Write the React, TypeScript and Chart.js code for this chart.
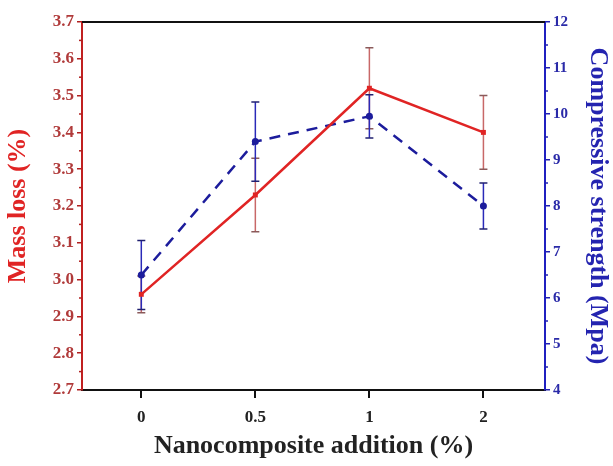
import React, { useEffect, useRef } from "react";
import { Chart, registerables } from "chart.js";

Chart.register(...registerables);

const categories = ["0", "0.5", "1", "2"];
const massLoss = [2.96, 3.23, 3.52, 3.4];
const massLossErr = [0.05, 0.1, 0.11, 0.1];
const strength = [6.5, 9.4, 9.95, 8.0];
const strengthErr = [0.75, 0.86, 0.47, 0.5];

const RED = "#e02424";
const RED_ERR = "#c86868";
const BLUE = "#1c1c9c";
const BLUE_ERR = "#2a2ab8";
const FONT = "'Liberation Serif', 'Times New Roman', serif";

const errorBarPlugin = {
  id: "errorBars",
  beforeDatasetsDraw(chart: any) {
    const ctx = chart.ctx;
    const x = chart.scales.x;
    const sets = [
      { vals: massLoss, errs: massLossErr, scale: chart.scales.y, color: RED_ERR, cap: "#8a5a5a" },
      { vals: strength, errs: strengthErr, scale: chart.scales.y1, color: BLUE_ERR, cap: "#202070" },
    ];
    ctx.save();
    sets.forEach((s) => {
      s.vals.forEach((v, i) => {
        const px = x.getPixelForValue(i);
        const top = s.scale.getPixelForValue(v + s.errs[i]);
        const bot = s.scale.getPixelForValue(v - s.errs[i]);
        ctx.strokeStyle = s.color;
        ctx.lineWidth = 1.5;
        ctx.beginPath();
        ctx.moveTo(px, top);
        ctx.lineTo(px, bot);
        ctx.stroke();
        ctx.strokeStyle = s.cap;
        ctx.beginPath();
        ctx.moveTo(px - 4, top);
        ctx.lineTo(px + 4, top);
        ctx.moveTo(px - 4, bot);
        ctx.lineTo(px + 4, bot);
        ctx.stroke();
      });
    });
    ctx.restore();
  },
};

const framePlugin = {
  id: "frame",
  afterDraw(chart: any) {
    const ctx = chart.ctx;
    const a = chart.chartArea;
    ctx.save();
    ctx.strokeStyle = "#111";
    ctx.lineWidth = 2;
    ctx.beginPath();
    ctx.moveTo(a.left, a.top);
    ctx.lineTo(a.right, a.top);
    ctx.stroke();
    // minor ticks
    const y = chart.scales.y;
    ctx.strokeStyle = "#b02020";
    ctx.lineWidth = 1.5;
    for (let v = 2.75; v < 3.7; v += 0.1) {
      const py = y.getPixelForValue(v);
      ctx.beginPath();
      ctx.moveTo(a.left, py);
      ctx.lineTo(a.left - 3, py);
      ctx.stroke();
    }
    const y1 = chart.scales.y1;
    ctx.strokeStyle = "#2020b0";
    for (let v = 4.5; v < 12; v += 1) {
      const py = y1.getPixelForValue(v);
      ctx.beginPath();
      ctx.moveTo(a.right, py);
      ctx.lineTo(a.right + 3, py);
      ctx.stroke();
    }
    ctx.restore();
  },
};

export default function App() {
  const ref = useRef<HTMLCanvasElement>(null);
  useEffect(() => {
    if (!ref.current) return;
    const chart = new Chart(ref.current, {
      type: "line",
      data: {
        datasets: [
          {
            label: "Mass loss",
            data: massLoss.map((v, i) => ({ x: i, y: v })),
            yAxisID: "y",
            borderColor: RED,
            backgroundColor: RED,
            borderWidth: 2.5,
            pointStyle: "rect",
            pointRadius: 3.5,
            pointBorderWidth: 0,
          },
          {
            label: "Compressive strength",
            data: strength.map((v, i) => ({ x: i, y: v })),
            yAxisID: "y1",
            borderColor: BLUE,
            backgroundColor: BLUE,
            borderWidth: 2.5,
            borderDash: [11, 8],
            pointStyle: "circle",
            pointRadius: 3.5,
            pointBorderWidth: 0,
          },
        ],
      },
      options: {
        animation: false,
        responsive: false,
        layout: { padding: { top: 22, left: 3, right: 0, bottom: 4 } },
        plugins: { legend: { display: false }, tooltip: { enabled: false } },
        scales: {
          x: {
            type: "linear",
            min: -0.52,
            max: 3.54,
            afterBuildTicks: (s: any) => {
              s.ticks = categories.map((_, i) => ({ value: i }));
            },
            afterFit: (s: any) => {
              s.height = 466 - 390 - 4;
            },
            ticks: {
              callback: (v: any) => categories[v as number] ?? "",
              color: "#222",
              font: { family: FONT, size: 17, weight: "bold" },
              padding: 9,
            },
            grid: { drawOnChartArea: false, drawTicks: true, tickLength: 8, color: "#111", lineWidth: 2 },
            border: { display: true, color: "#111", width: 2 },
            title: {
              display: true,
              text: "Nanocomposite addition (%)",
              color: "#222",
              font: { family: FONT, size: 26, weight: "bold" },
              padding: 0,
            },
          },
          y: {
            position: "left",
            min: 2.7,
            max: 3.7,
            afterBuildTicks: (s: any) => {
              const t = [];
              for (let i = 0; i <= 10; i++) t.push({ value: 2.7 + i * 0.1 });
              s.ticks = t;
            },
            afterFit: (s: any) => {
              s.width = 82 - 3;
            },
            ticks: {
              callback: (v: any) => (v as number).toFixed(1),
              color: "#b03a3a",
              font: { family: FONT, size: 17, weight: "bold" },
              padding: 3,
            },
            grid: { drawOnChartArea: false, drawTicks: true, tickLength: 5, color: "#b02020", lineWidth: 1.5 },
            border: { display: true, color: "#c02020", width: 2 },
            title: {
              display: true,
              text: "Mass loss (%)",
              color: RED,
              font: { family: FONT, size: 26, weight: "bold" },
              padding: 0,
            },
          },
          y1: {
            position: "right",
            min: 4,
            max: 12,
            afterBuildTicks: (s: any) => {
              const t = [];
              for (let i = 4; i <= 12; i++) t.push({ value: i });
              s.ticks = t;
            },
            afterFit: (s: any) => {
              s.width = 613 - 545;
            },
            ticks: {
              callback: (v: any) => String(v),
              color: "#2a2aa8",
              font: { family: FONT, size: 15, weight: "bold" },
              padding: 3,
            },
            grid: { drawOnChartArea: false, drawTicks: true, tickLength: 5, color: "#2020b0", lineWidth: 1.5 },
            border: { display: true, color: "#2020c0", width: 2 },
            title: {
              display: true,
              text: "Compressive strength (Mpa)",
              color: "#2424b0",
              font: { family: FONT, size: 26, weight: "bold" },
              padding: 0,
            },
          },
        },
      } as any,
      plugins: [errorBarPlugin, framePlugin],
    });
    return () => chart.destroy();
  }, []);
  return (
    <div style={{ position: "fixed", left: 0, top: 0, width: 613, height: 466, background: "#fff" }}>
      <canvas ref={ref} width={613} height={466} style={{ width: 613, height: 466 }} />
    </div>
  );
}
